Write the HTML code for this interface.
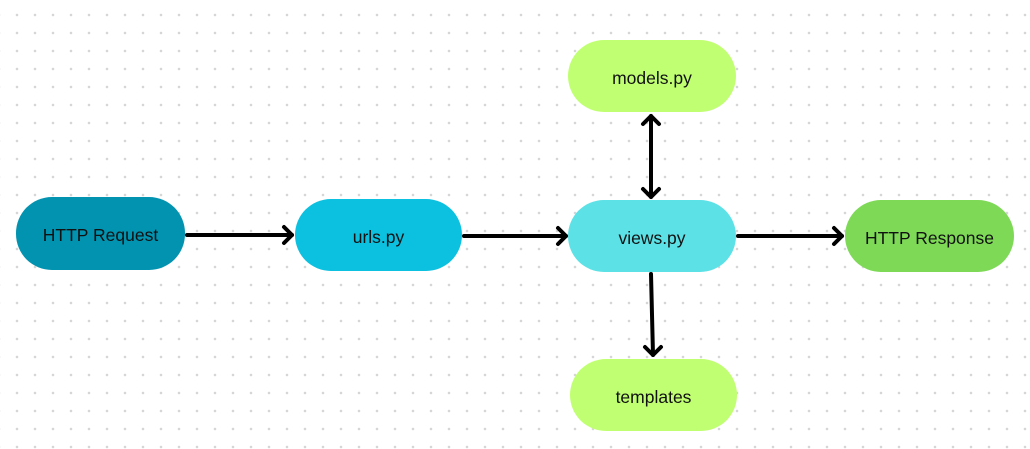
<!DOCTYPE html>
<html><head><style>
body{margin:0;width:1030px;height:449px;background:#fff;position:relative;overflow:hidden;font-family:"Liberation Sans",sans-serif;}
.bg{position:absolute;inset:0;background-image:radial-gradient(circle,#d6d6d6 1.1px,transparent 1.5px);background-size:18px 18px;background-position:8px 6px;}
.n{position:absolute;border-radius:36px;display:flex;align-items:center;justify-content:center;font-size:17.5px;color:#111;padding-top:4px;box-sizing:border-box;}
</style></head><body>
<div class="bg"></div>
<div class="n" style="left:16px;top:197px;width:169px;height:73px;background:#0293b0">HTTP Request</div>
<div class="n" style="left:295px;top:199px;width:167px;height:72px;background:#0cc0df">urls.py</div>
<div class="n" style="left:568px;top:200px;width:168px;height:72px;background:#5ce1e6">views.py</div>
<div class="n" style="left:568px;top:40px;width:168px;height:72px;background:#c1ff72">models.py</div>
<div class="n" style="left:570px;top:359px;width:167px;height:72px;background:#c1ff72">templates</div>
<div class="n" style="left:845px;top:200px;width:169px;height:72px;background:#7ed957">HTTP Response</div>
<svg width="1030" height="449" style="position:absolute;left:0;top:0" fill="none" stroke="#000" stroke-width="4" stroke-linecap="round" stroke-linejoin="round">
<line x1="187" y1="235" x2="292" y2="235"/><polyline points="284,227 292,235 284,243"/>
<line x1="464" y1="236" x2="566" y2="236"/><polyline points="558,228 566,236 558,244"/>
<line x1="738" y1="236" x2="842" y2="236"/><polyline points="834,228 842,236 834,244"/>
<line x1="651" y1="116" x2="651" y2="197"/><polyline points="643,124 651,116 659,124"/><polyline points="643,189 651,197 659,189"/>
<line x1="651" y1="274" x2="653" y2="355"/><polyline points="645,347 653,355 661,347"/>
</svg>
</body></html>
